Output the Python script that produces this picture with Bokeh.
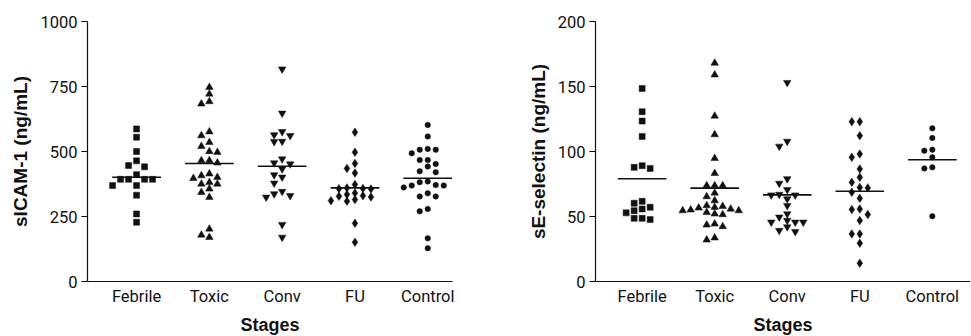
from bokeh.plotting import figure
from bokeh.layouts import row
from bokeh.models import FixedTicker, Range1d
from bokeh.embed import file_html
from bokeh.resources import INLINE

# ---------------- data ----------------
stages = ["Febrile", "Toxic", "Conv", "FU", "Control"]
markers = ["square", "triangle", "inverted_triangle", "diamond", "circle"]

icam_febrile = [587, 555, 500, 464, 446, 441, 411, 393, 393, 393, 393, 369, 369, 332, 260, 228]
icam_toxic = [747, 721, 692, 683, 576, 561, 535, 520, 500, 497, 465, 465, 456, 414, 407,
              401, 397, 381, 375, 375, 356, 343, 324, 202, 179, 170]
icam_conv = [817, 647, 576, 564, 561, 539, 538, 471, 456, 452, 433, 410, 401, 378, 346,
             337, 330, 324, 219, 170]
icam_fu = [574, 497, 454, 435, 417, 373, 360, 358, 357, 356, 340, 335, 330, 328, 325,
           315, 311, 309, 224, 151]
icam_control = [602, 558, 510, 507, 507, 493, 467, 467, 452, 442, 424, 420, 385, 382, 371,
                369, 369, 362, 339, 327, 327, 279, 270, 166, 128]
icam_mean = [401, 454, 443, 360, 397]
icam_ticks = [0, 250, 500, 750, 1000]

esel_febrile = [148.5, 130.6, 123.4, 111.6, 89.1, 87.8, 87.0, 61.7, 60.2, 57.1, 55.8, 54.5,
                52.8, 48.6, 48.6, 47.6]
esel_toxic = [168, 159, 127.3, 113, 94.7, 83.2, 73.8, 73.8, 73.8, 68.1, 65.3, 62.2, 58.4,
              57.8, 57.1, 56.6, 55.8, 55.1, 54.5, 54.5, 53.2, 52, 51.5, 44.3, 43.5, 42.3,
              33.6, 32]
esel_conv = [153, 107.8, 104, 79, 75.5, 70.7, 67, 66.5, 66.5, 63.5, 58.4, 52, 49.5, 47,
             45.6, 45.6, 45.6, 42, 39.2, 38.4]
esel_fu = [122.9, 122.9, 112.2, 98.1, 95.5, 86.6, 80.1, 76.3, 72.4, 72, 68.6, 64, 55.8,
           55.3, 51.5, 46.9, 36.6, 36.6, 29.4, 14.1]
esel_control = [117.8, 110.4, 101.4, 100.6, 95.5, 87.8, 87, 50.2]
esel_mean = [79.0, 71.8, 66.6, 69.4, 93.6]
esel_ticks = [0, 50, 100, 150, 200]

# ---------------- styling ----------------
INK = "#111111"
TICK_FONT = "Roboto"
TITLE_FONT = "Liberation Sans"
MARKER_SIZES = {"square": 6, "triangle": 7.5, "inverted_triangle": 7.5,
                "diamond": 8.5, "circle": 5.5}
FRAME_H = 260
MEAN_HALF = 0.335


def swarm_offsets(vals, px_per_y, px_per_x, sep_px=6.5, step_px=8.0):
    """Simple beeswarm: place each point in the nearest free column."""
    placed = []
    offs = []
    order = [0, -1, 1, -2, 2, -3, 3, -4, 4, -5, 5]
    for v in vals:
        y = v * px_per_y
        for k in order:
            if all(not (pk == k and abs(py - y) < sep_px) for pk, py in placed):
                placed.append((k, y))
                offs.append(k * step_px / px_per_x)
                break
    return offs


def make_panel(groups, means, ticks, ymax, ylabel, x_start, x_end, frame_w,
               border_left, border_right):
    p = figure(frame_width=frame_w, frame_height=FRAME_H,
               x_range=Range1d(x_start, x_end), y_range=Range1d(0, ymax),
               output_backend="svg", toolbar_location=None,
               min_border_left=border_left, min_border_right=border_right,
               min_border_top=21, min_border_bottom=54)
    px_per_y = FRAME_H / ymax
    px_per_x = frame_w / (x_end - x_start)
    for i, (vals, mk) in enumerate(zip(groups, markers)):
        offs = swarm_offsets(vals, px_per_y, px_per_x)
        xs = [i + 1 + o for o in offs]
        p.scatter(xs, vals, marker=mk, size=MARKER_SIZES[mk],
                  fill_color=INK, line_color=INK, line_width=0.5)
    cats = list(range(1, len(stages) + 1))
    p.segment(x0=[c - MEAN_HALF for c in cats], x1=[c + MEAN_HALF for c in cats],
              y0=means, y1=means, line_color=INK, line_width=1.6)

    p.grid.visible = False
    p.outline_line_color = None
    p.background_fill_color = "white"
    p.border_fill_color = "white"

    p.xaxis.ticker = FixedTicker(ticks=cats)
    p.xaxis.major_label_overrides = {c: s for c, s in zip(cats, stages)}
    p.xaxis.major_tick_line_color = None
    p.xaxis.minor_tick_line_color = None
    p.xaxis.major_tick_out = 0
    p.xaxis.major_tick_in = 0
    p.xaxis.major_label_standoff = 5
    p.xaxis.axis_label = "Stages"
    p.xaxis.axis_label_standoff = 6
    p.xaxis.axis_label_text_font_size = "18px"

    p.yaxis.ticker = FixedTicker(ticks=ticks)
    p.yaxis.minor_tick_line_color = None
    p.yaxis.major_tick_out = 6
    p.yaxis.major_tick_in = 0
    p.yaxis.major_label_standoff = 4
    p.yaxis.axis_label = ylabel
    p.yaxis.axis_label_standoff = 6
    p.yaxis.axis_label_text_font_size = "19px"

    for ax in (p.xaxis, p.yaxis):
        ax.axis_line_color = INK
        ax.axis_line_width = 1.2
        ax.major_tick_line_width = 1.2
        ax.major_label_text_font = TICK_FONT
        ax.major_label_text_font_size = "16.5px"
        ax.major_label_text_color = INK
        ax.axis_label_text_font = TITLE_FONT
        ax.axis_label_text_font_style = "bold"
        ax.axis_label_text_color = INK
    return p


p1 = make_panel([icam_febrile, icam_toxic, icam_conv, icam_fu, icam_control],
                icam_mean, icam_ticks, 1000, "sICAM-1 (ng/mL)",
                0.326, 5.34, 365, 87, 28)
p2 = make_panel([esel_febrile, esel_toxic, esel_conv, esel_fu, esel_control],
                esel_mean, esel_ticks, 200, "sE-selectin (ng/mL)",
                0.357, 5.526, 375, 115, 0)

layout = row(p1, p2)
open("out.html", "w").write(file_html(layout, INLINE))
